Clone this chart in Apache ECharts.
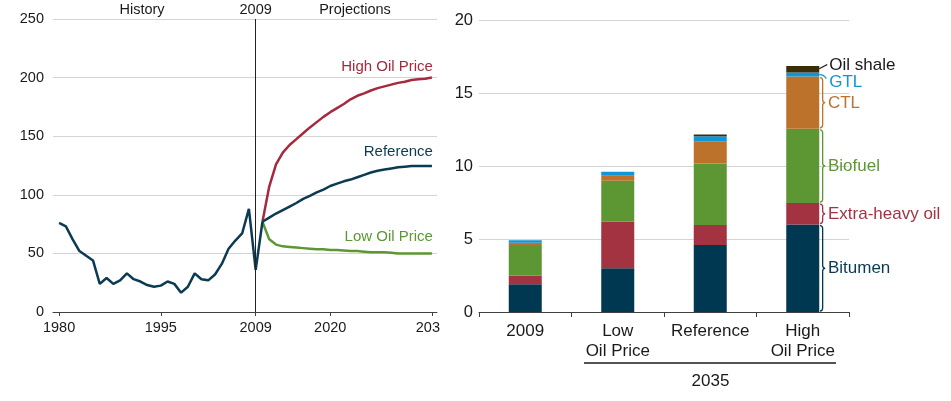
<!DOCTYPE html>
<html><head><meta charset="utf-8">
<script src="https://cdn.jsdelivr.net/npm/echarts@6/dist/echarts.min.js"></script>
<style>html,body{margin:0;padding:0;background:#fff}#c{width:951px;height:401px}</style>
</head><body><div id="c"></div>
<script>
// ---------- Left chart: oil price (history + projections) ----------
const historyStart = 1980;   // history runs 1980..2010 (2010 joins projections)
const historyValues = [76,73,62,52,48,44,24,29,24,27,33,28,26,23,21.5,22.5,26,24,16.5,21.5,33,28,27,32,41,54,61,67,88,36,77];
const projectionStart = 2010; // projections 2010..2035
const referenceValues = [77,80.5,84,87,90,93,96.5,99,102,104.5,107.5,109.5,111.5,113,115,117,119,120.5,121.5,122.5,123.5,124,124.5,124.5,124.5,124.5];
const highValues = [77,107,126,136,142.5,147.5,152.5,157.5,162,166.5,170.5,174,177.5,181.5,184.5,186.5,189,191,192.5,194,195.5,196.5,198,198.5,199,200];
const lowValues = [77,62,57.5,56,55.5,55,54.5,54,53.5,53.5,53,53,52.5,52,52,51.5,51,51,51,50.5,50,50,50,50,50,50];
const yearTicks = [1980,1995,2009,2020,2035];

// ---------- Right chart: liquids production (stacked) ----------
const categories = ['2009','Low\nOil Price','Reference','High\nOil Price'];
const bitumen    = [1.9, 3.0, 4.6, 6.0];
const extraHeavy = [0.6, 3.2, 1.37, 1.47];
const biofuel    = [2.1, 2.8, 4.22, 5.1];
const ctl        = [0.15, 0.35, 1.53, 3.58];
const gtl        = [0.18, 0.28, 0.34, 0.28];
const oilShale   = [0, 0, 0.12, 0.45];
const segNames   = ['Bitumen','Extra-heavy oil','Biofuel','CTL','GTL','Oil shale'];

const FONT = '"Liberation Sans", Arial, sans-serif';
const C = {navy:'#0b3a52', red:'#a52a3f', green:'#5d9733',
  bit:'#003852', xh:'#a33340', bio:'#5d9733', ctl:'#bd722b', gtl:'#1096d6', shale:'#3a2e0a'};
const segColors = [C.bit, C.xh, C.bio, C.ctl, C.gtl, C.shale];
const textColors = [C.navy, C.xh, C.bio, C.ctl, C.gtl, '#1a1a1a'];
const BAR_W = 33;

function pairs(start, vals){ return vals.map((v,i)=>[start+i, v]); }

// annotation items for the High Oil Price bar
const stacks = [bitumen, extraHeavy, biofuel, ctl, gtl, oilShale];
const annoIdx = 3;
const annoData = [];
let cum = 0;
stacks.forEach((arr,k)=>{ const lo = cum; cum += arr[annoIdx]; annoData.push([annoIdx, lo, cum, k]); });

const chart = echarts.init(document.getElementById('c'), null, {renderer:'canvas'});

const option = {
  animation:false,
  backgroundColor:'#fff',
  textStyle:{fontFamily:FONT},
  grid:[
    {left:53, top:19, width:384, height:293},
    {left:479, top:20.5, width:370, height:291.5}
  ],
  xAxis:[
    {type:'value', gridIndex:0, min:1979.1, max:2035.75,
     axisLine:{show:true, onZero:false, lineStyle:{color:'#404040', width:1}},
     axisTick:{show:true, length:4, customValues:yearTicks, lineStyle:{color:'#404040'}},
     axisLabel:{customValues:yearTicks, formatter:function(v){return String(v);},
       fontSize:14.5, color:'#1a1a1a', margin:8, fontFamily:FONT},
     splitLine:{show:false}},
    {type:'category', gridIndex:1, data:categories,
     axisLine:{show:true, lineStyle:{color:'#404040', width:1}},
     axisTick:{show:true, length:5, alignWithLabel:false, lineStyle:{color:'#404040'}},
     axisLabel:{fontSize:17, lineHeight:20, color:'#1a1a1a', margin:9, interval:0, fontFamily:FONT},
     splitLine:{show:false}}
  ],
  yAxis:[
    {type:'value', gridIndex:0, min:0, max:250, interval:50,
     axisLine:{show:false}, axisTick:{show:false},
     axisLabel:{fontSize:14.5, color:'#1a1a1a', margin:9, fontFamily:FONT},
     splitLine:{lineStyle:{color:'#d4d4d4', width:1}}},
    {type:'value', gridIndex:1, min:0, max:20, interval:5,
     axisLine:{show:false}, axisTick:{show:false},
     axisLabel:{fontSize:16.5, color:'#1a1a1a', margin:6, fontFamily:FONT},
     splitLine:{lineStyle:{color:'#d4d4d4', width:1}}}
  ],
  series:[
    {name:'History', type:'line', xAxisIndex:0, yAxisIndex:0, data:pairs(historyStart, historyValues),
     symbol:'none', lineStyle:{color:C.navy, width:2.5}, z:3,
     markLine:{silent:true, symbol:['none','none'], label:{show:false},
       lineStyle:{color:'#222', width:1, type:'solid'}, data:[{xAxis:2009}]}},
    {name:'Reference', type:'line', xAxisIndex:0, yAxisIndex:0, data:pairs(projectionStart, referenceValues),
     symbol:'none', lineStyle:{color:C.navy, width:2.5}, z:3},
    {name:'High Oil Price', type:'line', xAxisIndex:0, yAxisIndex:0, data:pairs(projectionStart, highValues),
     symbol:'none', lineStyle:{color:C.red, width:2.5}, z:2},
    {name:'Low Oil Price', type:'line', xAxisIndex:0, yAxisIndex:0, data:pairs(projectionStart, lowValues),
     symbol:'none', lineStyle:{color:C.green, width:2.5}, z:2},
    ...stacks.map((arr,k)=>({
      name:segNames[k], type:'bar', stack:'total', xAxisIndex:1, yAxisIndex:1,
      barWidth:BAR_W, data:arr, itemStyle:{color:segColors[k]}
    })),
    {type:'custom', xAxisIndex:1, yAxisIndex:1, data:annoData, z:10, clip:false,
     encode:{x:0, y:[1,2]},
     renderItem:function(params, api){
       const cat = api.value(0), lo = api.value(1), hi = api.value(2), k = api.value(3);
       const pLo = api.coord([cat, lo]), pHi = api.coord([cat, hi]);
       const xr = pLo[0] + BAR_W/2;
       const yB = pLo[1], yT = pHi[1], ym = (yB+yT)/2;
       const font = '17px ' + FONT;
       const children = [];
       if (k <= 3) {
         const x0 = xr + 0.8, xs = x0 + 2.6, xt = x0 + 5.2;
         const t = yT + 1, b = yB - 1;
         const r = Math.min(3, (b - t)/4);
         const d = `M${x0},${t} Q${xs},${t} ${xs},${t+r} L${xs},${ym-r} Q${xs},${ym} ${xt},${ym} Q${xs},${ym} ${xs},${ym+r} L${xs},${b-r} Q${xs},${b} ${x0},${b}`;
         children.push({type:'path', shape:{pathData:d}, style:{stroke:segColors[k], lineWidth:1.3, fill:null}});
         children.push({type:'text', style:{text:segNames[k], x:xr+8.7, y:ym+0.5, fill:textColors[k], font:font,
           align:'left', verticalAlign:'middle', textAlign:'left', textVerticalAlign:'middle'}});
       } else if (k === 4) { // GTL hook
         const d = `M${xr},${ym} Q${xr+5},${ym} ${xr+7},${yB+2}`;
         children.push({type:'path', shape:{pathData:d}, style:{stroke:segColors[k], lineWidth:1.3, fill:null}});
         children.push({type:'text', style:{text:segNames[k], x:xr+10, y:yB+6, fill:textColors[k], font:font,
           align:'left', verticalAlign:'middle', textAlign:'left', textVerticalAlign:'middle'}});
       } else { // oil shale leader
         children.push({type:'line', shape:{x1:xr, y1:ym-0.5, x2:xr+8, y2:yT-1.5}, style:{stroke:'#1a1a1a', lineWidth:1.3}});
         children.push({type:'text', style:{text:segNames[k], x:xr+10, y:yT-1, fill:textColors[k], font:font,
           align:'left', verticalAlign:'middle', textAlign:'left', textVerticalAlign:'middle'}});
       }
       return {type:'group', children:children};
     }}
  ]
};
chart.setOption(option);

// line-end labels and header annotations, positioned through the axes
function px(x, y){ return chart.convertToPixel({gridIndex:0}, [x, y]); }
const lastYear = projectionStart + referenceValues.length - 1;
const pH = px(lastYear, highValues[highValues.length-1]);
const pR = px(lastYear, referenceValues[referenceValues.length-1]);
const pL = px(lastYear, lowValues[lowValues.length-1]);
const p09 = px(2009, 250);
function txt(text, x, y, color, size, align){
  return {type:'text', z:50, style:{text:text, x:x, y:y, fill:color, font:size+'px '+FONT,
    align:align, verticalAlign:'middle', textAlign:align, textVerticalAlign:'middle'}};
}
chart.setOption({graphic:[
  txt('High Oil Price', pH[0]+1, pH[1]-11, C.red, 15, 'right'),
  txt('Reference', pR[0]+1, pR[1]-14, C.navy, 15, 'right'),
  txt('Low Oil Price', pL[0]+1, pL[1]-17, C.green, 15, 'right'),
  txt('History', 142, 9.5, '#1a1a1a', 14.5, 'center'),
  txt('2009', p09[0], 9.5, '#1a1a1a', 14.5, 'center'),
  txt('Projections', 355, 9.5, '#1a1a1a', 14.5, 'center'),
  {type:'rect', z:40, shape:{x:440, y:316, width:14, height:26}, style:{fill:'#fff'}},
  {type:'line', z:50, shape:{x1:584, y1:363, x2:836, y2:363}, style:{stroke:'#1a1a1a', lineWidth:1.3}},
  txt('2035', 710.5, 381.5, '#1a1a1a', 17, 'center')
]});
</script></body></html>
